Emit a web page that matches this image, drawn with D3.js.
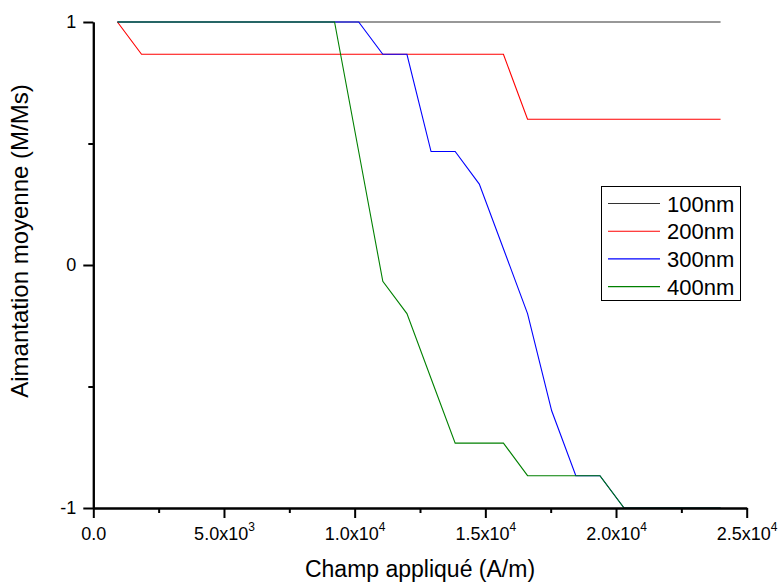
<!DOCTYPE html>
<html>
<head>
<meta charset="utf-8">
<script src="https://cdn.jsdelivr.net/npm/d3@7"></script>
<style>
  html, body { margin: 0; padding: 0; background: #fff; }
  svg { display: block; font-family: Arial, "Liberation Sans", sans-serif; }
</style>
</head>
<body>
<svg id="chart" width="779" height="582"></svg>
<script>
// ---- data ----
const fieldValues = [923, 1846, 2769, 3692, 4615, 5538, 6462, 7385, 8308, 9231,
  10154, 11077, 12000, 12923, 13846, 14769, 15692, 16615, 17538, 18462,
  19385, 20308, 21231, 22154, 23077, 24000];

const series100 = [1, 1, 1, 1, 1, 1, 1, 1, 1, 1, 1, 1, 1, 1, 1, 1, 1, 1, 1, 1, 1, 1, 1, 1, 1, 1];
const series200 = [1, 0.867, 0.867, 0.867, 0.867, 0.867, 0.867, 0.867, 0.867, 0.867,
  0.867, 0.867, 0.867, 0.867, 0.867, 0.867, 0.867, 0.6, 0.6, 0.6,
  0.6, 0.6, 0.6, 0.6, 0.6, 0.6];
const series300 = [1, 1, 1, 1, 1, 1, 1, 1, 1, 1,
  1, 0.867, 0.867, 0.467, 0.467, 0.333, 0.067, -0.2, -0.6, -0.867,
  -0.867, -1, -1, -1, -1, -1];
const series400 = [1, 1, 1, 1, 1, 1, 1, 1, 1, 1,
  0.467, -0.067, -0.2, -0.467, -0.733, -0.733, -0.733, -0.867, -0.867, -0.867,
  -0.867, -1, -1, -1, -1, -1];

const seriesNames = ["100nm", "200nm", "300nm", "400nm"];
const seriesColors = ["#333333", "#ff0000", "#0000ff", "#008000"];

const xMajorTicks = [0, 5000, 10000, 15000, 20000, 25000];
const xMinorTicks = [2500, 7500, 12500, 17500, 22500];
const xTickMantissa = ["0.0", "5.0", "1.0", "1.5", "2.0", "2.5"];
const xTickExponent = ["", "3", "4", "4", "4", "4"];
const yMajorTicks = [-1, 0, 1];
const yMinorTicks = [-0.5, 0.5];
const yTickLabels = ["-1", "0", "1"];

const xTitle = "Champ appliqué (A/m)";
const yTitle = "Aimantation moyenne (M/Ms)";

// ---- layout ----
const svg = d3.select("#chart");
const pLeft = 93.3, pRight = 746.7, pTop = 22, pBottom = 508;

const x = d3.scaleLinear().domain([0, 25000]).range([pLeft, pRight]);
const y = d3.scaleLinear().domain([-1, 1]).range([pBottom, pTop]);

// lines
const allSeries = [series100, series200, series300, series400];
const line = d3.line()
  .x((d, i) => x(fieldValues[i]))
  .y(d => y(d));

svg.append("g").selectAll("path")
  .data(allSeries)
  .join("path")
  .attr("d", d => line(d))
  .attr("fill", "none")
  .attr("stroke", (d, i) => seriesColors[i])
  .attr("stroke-width", 1.1);

// axes
function styleAxis(g) {
  g.selectAll("path.domain").attr("stroke", "#000").attr("stroke-width", 2);
  g.selectAll(".tick line").attr("stroke", "#000").attr("stroke-width", 2);
  g.attr("font-family", null).attr("font-size", null);
}

// minor ticks
svg.append("g")
  .attr("transform", `translate(0,${pBottom})`)
  .call(d3.axisBottom(x).tickValues(xMinorTicks).tickSize(5).tickSizeOuter(0).tickFormat(""))
  .call(styleAxis);
svg.append("g")
  .attr("transform", `translate(${pLeft},0)`)
  .call(d3.axisLeft(y).tickValues(yMinorTicks).tickSize(5).tickSizeOuter(0).tickFormat(""))
  .call(styleAxis);

// major x
const xAxisG = svg.append("g")
  .attr("transform", `translate(0,${pBottom})`)
  .call(d3.axisBottom(x).tickValues(xMajorTicks).tickSize(10).tickSizeOuter(0).tickFormat(""))
  .call(styleAxis);
xAxisG.selectAll(".tick text").remove();
xAxisG.selectAll(".tick").each(function(d, i) {
  const t = d3.select(this).append("text")
    .attr("y", 32)
    .attr("text-anchor", "middle")
    .attr("fill", "#000")
    .attr("font-size", 18);
  t.append("tspan").text(xTickMantissa[i] + (xTickExponent[i] ? "x10" : ""));
  if (xTickExponent[i]) {
    t.append("tspan").attr("dy", -9).attr("font-size", 12).text(xTickExponent[i]);
  }
});

// major y
const yAxisG = svg.append("g")
  .attr("transform", `translate(${pLeft},0)`)
  .call(d3.axisLeft(y).tickValues(yMajorTicks).tickSize(10).tickSizeOuter(0)
    .tickFormat((d, i) => yTickLabels[i]))
  .call(styleAxis);
yAxisG.selectAll(".tick text")
  .attr("x", -17)
  .attr("font-size", 18)
  .attr("fill", "#000");

// axis titles
svg.append("text")
  .attr("x", 420)
  .attr("y", 577)
  .attr("text-anchor", "middle")
  .attr("font-size", 23)
  .attr("fill", "#000")
  .text(xTitle);

svg.append("text")
  .attr("transform", `translate(28,241) rotate(-90)`)
  .attr("text-anchor", "middle")
  .attr("font-size", 24)
  .attr("fill", "#000")
  .text(yTitle);

// legend
const lg = svg.append("g");
lg.append("rect")
  .attr("x", 601.5).attr("y", 186.5)
  .attr("width", 139).attr("height", 114)
  .attr("fill", "#fff").attr("stroke", "#000").attr("stroke-width", 1);
seriesNames.forEach((name, i) => {
  const cy = 203.5 + i * 27.7;
  lg.append("line")
    .attr("x1", 608).attr("x2", 660)
    .attr("y1", cy).attr("y2", cy)
    .attr("stroke", seriesColors[i]).attr("stroke-width", 1.1);
  lg.append("text")
    .attr("x", 667).attr("y", cy + 8)
    .attr("font-size", 22)
    .attr("fill", "#000")
    .text(name);
});
</script>
</body>
</html>
